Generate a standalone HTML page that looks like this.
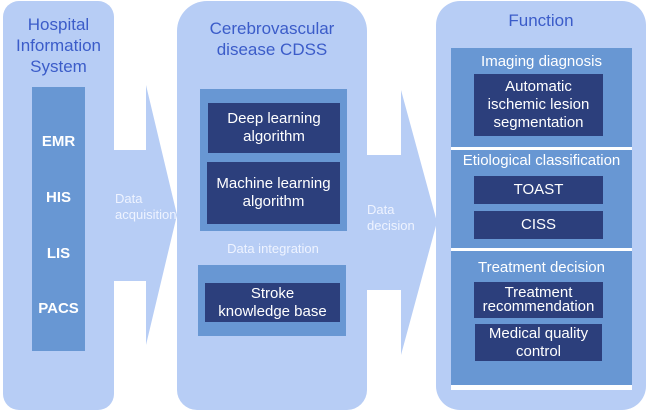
<!DOCTYPE html>
<html><head><style>
body{margin:0;width:649px;height:413px;background:#fff;position:relative;overflow:hidden;font-family:"Liberation Sans",sans-serif}
div{position:absolute;box-sizing:border-box}
.p{background:#b7cdf5}
.m{background:#6897d3}
.d{background:#2c3f7c;color:#fff;display:flex;align-items:center;justify-content:center;text-align:center;font-size:15px;line-height:18px;white-space:nowrap}
.t{color:#3b5cc9;text-align:center;font-size:17px;line-height:21px}
.w{color:#fff;text-align:center;font-size:15px;white-space:nowrap}
.l{color:#eef3ff;font-size:13px;line-height:16px}
</style></head><body>
<div class="p" style="left:3px;top:1px;width:111px;height:409px;border-radius:16px"></div>
<div class="t" style="left:3px;top:14px;width:111px">Hospital<br>Information<br>System</div>
<div class="m" style="left:32px;top:87px;width:53px;height:264px"></div>
<div class="w" style="left:32px;top:133px;width:53px;font-weight:bold">EMR</div>
<div class="w" style="left:32px;top:189px;width:53px;font-weight:bold">HIS</div>
<div class="w" style="left:32px;top:245px;width:53px;font-weight:bold">LIS</div>
<div class="w" style="left:32px;top:300px;width:53px;font-weight:bold">PACS</div>
<svg style="position:absolute;left:0;top:0" width="649" height="413">
<polygon fill="#b7cdf5" points="112,150 146,150 146,85 177,215 146,345 146,281 112,281"/>
<polygon fill="#b7cdf5" points="364,155 401,155 401,90 437,222 401,355 401,290 364,290"/>
</svg>
<div class="l" style="left:115px;top:191px">Data<br>acquisition</div>
<div class="l" style="left:367px;top:202px">Data<br>decision</div>
<div class="p" style="left:177px;top:1px;width:190px;height:409px;border-radius:30px 30px 20px 20px"></div>
<div class="t" style="left:177px;top:18px;width:190px">Cerebrovascular<br>disease CDSS</div>
<div class="m" style="left:200px;top:89px;width:147px;height:142px"></div>
<div class="d" style="left:208px;top:103px;width:132px;height:50px">Deep learning<br>algorithm</div>
<div class="d" style="left:207px;top:162px;width:133px;height:62px">Machine learning<br>algorithm</div>
<div class="l" style="left:198px;top:241px;width:150px;text-align:center">Data integration</div>
<div class="m" style="left:198px;top:265px;width:148px;height:71px"></div>
<div class="d" style="left:205px;top:283px;width:135px;height:39px">Stroke<br>knowledge base</div>
<div class="p" style="left:436px;top:1px;width:210px;height:409px;border-radius:24px"></div>
<div class="t" style="left:436px;top:10px;width:210px">Function</div>
<div class="m" style="left:451px;top:48px;width:181px;height:337px"></div>
<div style="left:451px;top:147px;width:181px;height:3px;background:#fff"></div>
<div style="left:451px;top:248px;width:181px;height:3px;background:#fff"></div>
<div style="left:451px;top:385px;width:181px;height:5px;background:#fff"></div>
<div class="w" style="left:451px;top:53px;width:181px">Imaging diagnosis</div>
<div class="d" style="left:474px;top:74px;width:129px;height:62px">Automatic<br>ischemic lesion<br>segmentation</div>
<div class="w" style="left:451px;top:152px;width:181px">Etiological classification</div>
<div class="d" style="left:474px;top:176px;width:129px;height:28px">TOAST</div>
<div class="d" style="left:474px;top:211px;width:129px;height:28px">CISS</div>
<div class="w" style="left:451px;top:259px;width:181px">Treatment decision</div>
<div class="d" style="left:474px;top:282px;width:129px;height:36px;line-height:14px">Treatment<br>recommendation</div>
<div class="d" style="left:475px;top:324px;width:127px;height:37px">Medical quality<br>control</div>
</body></html>
